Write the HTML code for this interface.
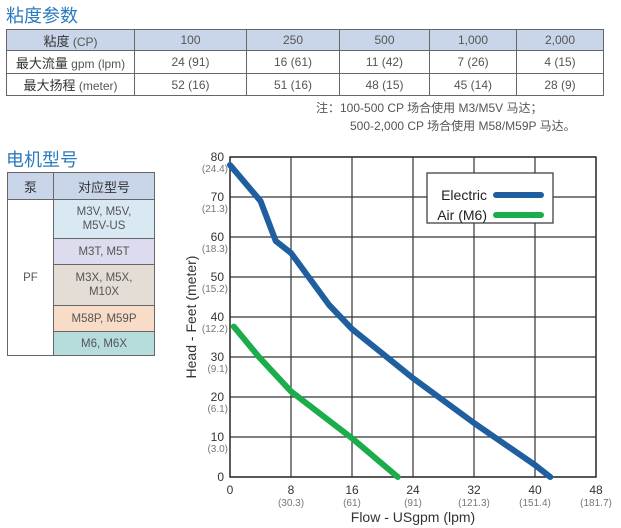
<!DOCTYPE html>
<html><head><meta charset="utf-8"><style>
body{margin:0;width:621px;height:528px;background:#fff;position:relative;overflow:hidden;font-family:"Liberation Sans","Noto Sans CJK SC",sans-serif;color:#444}
.t{position:absolute;color:#2a7ac0;font-size:18px;font-family:"Noto Sans CJK SC",sans-serif}
table{position:absolute;border-collapse:collapse;font-size:12px;color:#555}
td{border:1px solid #666;text-align:center;padding:0}
.b{font-family:"Noto Sans CJK SC",sans-serif;color:#333;font-size:13px}
.note{position:absolute;font-size:12px;color:#555;line-height:18px}
</style></head><body>
<div class="t" style="left:6px;top:2px">粘度参数</div>
<table style="left:6px;top:29px;width:598px">
<tr style="height:21px;background:#c9d6ea"><td style="width:127px"><span class="b">粘度</span> (CP)</td><td style="width:111px">100</td><td style="width:92px">250</td><td style="width:89px">500</td><td style="width:86px">1,000</td><td>2,000</td></tr>
<tr style="height:23px"><td><span class="b">最大流量</span> gpm (lpm)</td><td>24 (91)</td><td>16 (61)</td><td>11 (42)</td><td>7 (26)</td><td>4 (15)</td></tr>
<tr style="height:22px"><td><span class="b">最大扬程</span> (meter)</td><td>52 (16)</td><td>51 (16)</td><td>48 (15)</td><td>45 (14)</td><td>28 (9)</td></tr>
</table>
<div class="note" style="left:316px;top:99px">注：100-500 CP 场合使用 M3/M5V 马达；<br><span style="padding-left:34px">500-2,000 CP 场合使用 M58/M59P 马达。</span></div>
<div class="t" style="left:6px;top:146px">电机型号</div>
<table style="left:7px;top:172px;width:148px;font-size:11.5px">
<tr style="height:27px;background:#c9d6ea"><td style="width:45px" class="b">泵</td><td class="b">对应型号</td></tr>
<tr style="height:39px"><td rowspan="5" style="background:#fff">PF</td><td style="background:#d9e9f3;line-height:14px">M3V, M5V,<br>M5V-US</td></tr>
<tr style="height:26px"><td style="background:#dddcef">M3T, M5T</td></tr>
<tr style="height:41px"><td style="background:#e4ddd5;line-height:14px">M3X, M5X,<br>M10X</td></tr>
<tr style="height:26px"><td style="background:#f8dcc8">M58P, M59P</td></tr>
<tr style="height:24px"><td style="background:#b6dcdc">M6, M6X</td></tr>
</table>
<svg id="chart" width="621" height="528" style="position:absolute;left:0;top:0"></svg>
<script>
const xTicks=[0,8,16,24,32,40,48];
const xSub=["","(30.3)","(61)","(91)","(121.3)","(151.4)","(181.7)"];
const yTicks=[0,10,20,30,40,50,60,70,80];
const ySub=["","(3.0)","(6.1)","(9.1)","(12.2)","(15.2)","(18.3)","(21.3)","(24.4)"];
const elecX=[0,4,6,8,13,16,24,32,40,42];
const elecY=[78,69,59,56,43,37,24.7,13.5,3,0];
const airX=[0.5,3.8,8,16,22];
const airY=[37.6,30,21.4,9.7,0];
const X0=230,X1=596,Y0=477,Y1=157;
const sx=v=>X0+(v/48)*(X1-X0), sy=v=>Y0-(v/80)*(Y0-Y1);
const svg=document.getElementById('chart');const NS='http://www.w3.org/2000/svg';
function mk(t,a,p){const e=document.createElementNS(NS,t);for(const k in a)e.setAttribute(k,a[k]);(p||svg).appendChild(e);return e;}
const bg=mk('rect',{x:X0,y:Y1,width:X1-X0,height:Y0-Y1,fill:'#fff',stroke:'#333','stroke-width':1.5});


xTicks.forEach((v,i)=>{
 const l=mk('line',{x1:sx(v),x2:sx(v),y1:Y1,y2:Y0,stroke:'#333','stroke-width':1.2});
 
 
 const t=mk('text',{x:sx(v),y:Y0+17,'text-anchor':'middle','font-size':12,fill:'#333'});t.textContent=v;
 
 
 const s=mk('text',{x:sx(v),y:Y0+29,'text-anchor':'middle','font-size':10,fill:'#777'});s.textContent=xSub[i];
 
 
});
yTicks.forEach((v,i)=>{
 const l=mk('line',{x1:X0,x2:X1,y1:sy(v),y2:sy(v),stroke:'#333','stroke-width':1.2});
 
 
 const t=mk('text',{x:X0-6,y:sy(v)+4,'text-anchor':'end','font-size':12,fill:'#333'});t.textContent=v;
 
 
 const s=mk('text',{x:X0-2,y:sy(v)+15,'text-anchor':'end','font-size':10,fill:'#777'});s.textContent=ySub[i];
 
 
});
function series(xs,ys,c,n){const p=mk('polyline',{points:xs.map((x,i)=>sx(x)+','+sy(ys[i])).join(' '),fill:'none',stroke:c,'stroke-width':6,'stroke-linejoin':'round','stroke-linecap':'round'});
 
 }
series(elecX,elecY,'#1f5fa0','electric-line');
series(airX,airY,'#1bac4b','air-m6-line');
const lg=mk('rect',{x:427,y:173,width:126,height:50,fill:'#fff',stroke:'#333','stroke-width':1.2});


[['Electric','#1f5fa0',195],['Air (M6)','#1bac4b',215]].forEach(([n,c,y])=>{
 const t=mk('text',{x:487,y:y+5,'text-anchor':'end','font-size':14,fill:'#222'});t.textContent=n;
 
 
 const l=mk('line',{x1:496,x2:541,y1:y,y2:y,stroke:c,'stroke-width':6,'stroke-linecap':'round'});
 
 
});
const xt=mk('text',{x:413,y:522,'text-anchor':'middle','font-size':14,fill:'#333'});xt.textContent='Flow - USgpm (lpm)';


const yt=mk('text',{x:0,y:0,'text-anchor':'middle','font-size':14,fill:'#333',transform:'translate(196,317) rotate(-90)'});yt.textContent='Head - Feet (meter)';


</script>
</body></html>
